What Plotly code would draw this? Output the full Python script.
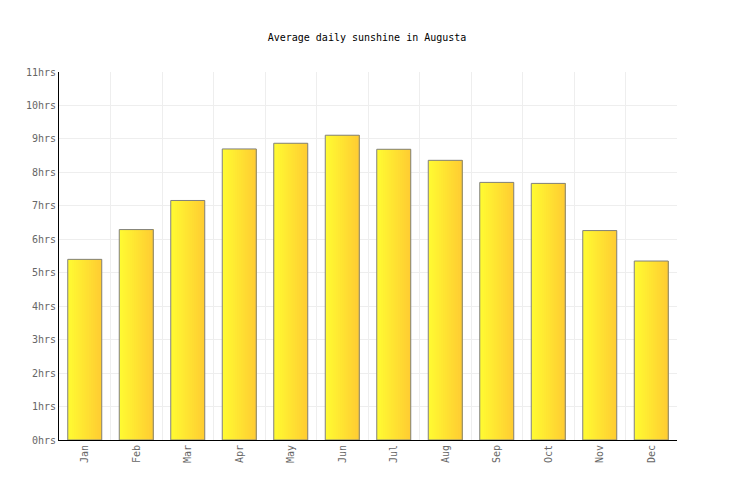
import plotly.graph_objects as go

months = ["Jan", "Feb", "Mar", "Apr", "May", "Jun", "Jul", "Aug", "Sep", "Oct", "Nov", "Dec"]
sunshine = [5.40, 6.29, 7.16, 8.70, 8.87, 9.11, 8.69, 8.36, 7.70, 7.67, 6.26, 5.35]
y_ticks = list(range(0, 12))
y_labels = [f"{v}hrs" for v in y_ticks]

x = list(range(len(months)))
bar_w = 0.66
n_slices = 16
step = bar_w / n_slices
fig = go.Figure()

# fake a left-to-right gradient: each slice runs to the right edge, later ones cover earlier
for i in range(n_slices):
    t = i / (n_slices - 1)
    g = round(250 - 45 * t)
    fig.add_trace(go.Bar(x=x, y=sunshine,
                         width=bar_w - i * step,
                         offset=-bar_w / 2 + i * step,
                         marker=dict(color=f"rgb(255,{g},50)", line=dict(width=0)),
                         hoverinfo="skip", showlegend=False))

# outline
fig.add_trace(go.Bar(x=x, y=sunshine, width=bar_w,
                     marker=dict(color="rgba(0,0,0,0)", line=dict(color="#808080", width=1)),
                     showlegend=False))

# page body adds 8px margin, so offsets are shifted to compensate
fig.update_layout(
    title=dict(text="Average daily sunshine in Augusta", x=0.4878, xanchor="center",
               y=0.942, yanchor="middle",
               font=dict(family="DejaVu Sans Mono", size=10, color="#000")),
    width=736, height=500,
    margin=dict(l=51, r=67, t=64, b=68),
    paper_bgcolor="white", plot_bgcolor="white",
    barmode="overlay",
    font=dict(family="DejaVu Sans Mono", size=10, color="#666"),
)
fig.update_xaxes(range=[-0.5, 11.5], tickvals=x, ticktext=months, tickangle=-90,
                 showgrid=False, zeroline=False, showline=True, linecolor="#000", linewidth=1,
                 ticks="", fixedrange=True,
                 minor=dict(tick0=0.5, dtick=1, showgrid=True, gridcolor="#eeeeee", gridwidth=1))
fig.update_yaxes(range=[0, 11], tickvals=y_ticks, ticktext=y_labels,
                 showgrid=True, gridcolor="#eeeeee", gridwidth=1, zeroline=False,
                 showline=True, linecolor="#000", linewidth=1, ticks="", fixedrange=True)

fig.write_html("out.html")
